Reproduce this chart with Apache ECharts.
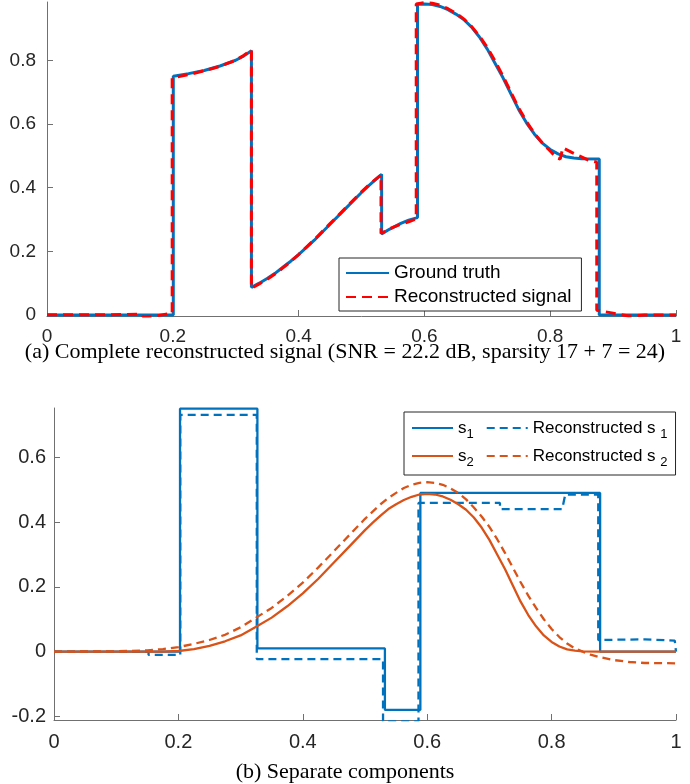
<!DOCTYPE html>
<html><head><meta charset="utf-8">
<script src="https://cdn.jsdelivr.net/npm/echarts@6/dist/echarts.min.js"></script>
<style>html,body{margin:0;padding:0;background:#fff}#c{width:690px;height:784px}</style>
</head><body><div id="c"></div>
<script>
// ---- tick values ----
const xTicks = [0, 0.2, 0.4, 0.6, 0.8, 1];
const yTicksTop = [0, 0.2, 0.4, 0.6, 0.8];
const yTicksBottom = [-0.2, 0, 0.2, 0.4, 0.6];

// ---- (a) complete signal ----
const groundTruth = [[0,0],[0.2008,0],[0.2008,0.75],[0.225,0.758],[0.25,0.768],[0.275,0.782],[0.3,0.8],[0.3125,0.813],[0.325,0.83],[0.325,0.087],[0.3375,0.1],[0.35,0.115],[0.3625,0.131],[0.375,0.15],[0.3875,0.169],[0.4,0.19],[0.425,0.235],[0.45,0.285],[0.475,0.335],[0.5,0.385],[0.5125,0.408],[0.525,0.43],[0.532,0.442],[0.532,0.255],[0.545,0.27],[0.5625,0.288],[0.575,0.298],[0.589,0.306],[0.589,0.976],[0.6,0.977],[0.6125,0.975],[0.625,0.969],[0.6375,0.959],[0.65,0.945],[0.6625,0.928],[0.675,0.904],[0.6875,0.873],[0.7,0.835],[0.7125,0.79],[0.725,0.745],[0.7375,0.695],[0.75,0.645],[0.7625,0.603],[0.775,0.568],[0.7875,0.54],[0.8,0.52],[0.8125,0.506],[0.825,0.497],[0.8375,0.493],[0.85,0.491],[0.878,0.49],[0.878,0],[1,0]];
const reconstructedSignal = [[0,0.001],[0.1,0.001],[0.15,0.003],[0.153,-0.006],[0.175,-0.002],[0.199,0.006],[0.199,0.745],[0.225,0.755],[0.25,0.767],[0.275,0.781],[0.3,0.8],[0.3125,0.815],[0.325,0.833],[0.325,0.084],[0.3375,0.098],[0.35,0.112],[0.3625,0.129],[0.375,0.148],[0.3875,0.168],[0.4,0.19],[0.425,0.237],[0.45,0.287],[0.475,0.337],[0.5,0.387],[0.5125,0.41],[0.531,0.44],[0.531,0.256],[0.545,0.271],[0.5625,0.285],[0.575,0.293],[0.587,0.302],[0.587,0.977],[0.6,0.981],[0.6125,0.979],[0.625,0.973],[0.6375,0.962],[0.65,0.948],[0.6625,0.93],[0.675,0.906],[0.6875,0.876],[0.7,0.84],[0.7125,0.797],[0.725,0.75],[0.7375,0.7],[0.75,0.65],[0.7625,0.607],[0.775,0.57],[0.7875,0.54],[0.8,0.515],[0.81,0.494],[0.816,0.49],[0.82,0.525],[0.835,0.51],[0.86,0.487],[0.874,0.48],[0.874,0.015],[0.9,0.006],[0.925,-0.003],[0.95,0.0],[1,0.0]];

// ---- (b) separate components ----
const s1 = [[0,0],[0.2026,0],[0.2026,0.75],[0.327,0.75],[0.327,0.01],[0.532,0.01],[0.532,-0.18],[0.589,-0.18],[0.589,0.49],[0.878,0.49],[0.878,0],[1,0]];
const s1Rec = [[0,0],[0.152,0],[0.152,-0.01],[0.203,-0.01],[0.203,0.731],[0.326,0.731],[0.326,-0.023],[0.529,-0.023],[0.529,-0.215],[0.586,-0.215],[0.586,0.459],[0.717,0.459],[0.717,0.44],[0.817,0.44],[0.822,0.485],[0.875,0.485],[0.875,0.036],[0.95,0.038],[0.998,0.034],[1,0]];
const s2 = [[0,0],[0.1,0],[0.15,0],[0.175,0],[0.2,0.002],[0.225,0.008],[0.25,0.018],[0.275,0.032],[0.3,0.05],[0.325,0.077],[0.35,0.105],[0.375,0.14],[0.4,0.18],[0.425,0.225],[0.45,0.275],[0.475,0.325],[0.5,0.375],[0.5125,0.398],[0.525,0.42],[0.5375,0.44],[0.55,0.455],[0.5625,0.468],[0.575,0.478],[0.5875,0.485],[0.6,0.487],[0.6125,0.485],[0.625,0.479],[0.6375,0.469],[0.65,0.455],[0.6625,0.438],[0.675,0.414],[0.6875,0.383],[0.7,0.345],[0.7125,0.3],[0.725,0.255],[0.7375,0.205],[0.75,0.155],[0.7625,0.113],[0.775,0.078],[0.7875,0.05],[0.8,0.03],[0.8125,0.016],[0.825,0.007],[0.8375,0.003],[0.85,0.001],[0.875,0],[1,0]];
const s2Rec = [[0,0],[0.1,0.001],[0.15,0.004],[0.175,0.008],[0.2,0.014],[0.225,0.024],[0.25,0.036],[0.275,0.052],[0.3,0.075],[0.325,0.105],[0.35,0.135],[0.375,0.172],[0.4,0.213],[0.425,0.26],[0.45,0.31],[0.475,0.36],[0.5,0.41],[0.525,0.455],[0.5375,0.474],[0.55,0.49],[0.5625,0.505],[0.575,0.515],[0.5875,0.521],[0.6,0.523],[0.6125,0.521],[0.625,0.515],[0.6375,0.504],[0.65,0.49],[0.6625,0.47],[0.675,0.445],[0.6875,0.417],[0.7,0.385],[0.7125,0.347],[0.725,0.305],[0.7375,0.26],[0.75,0.215],[0.7625,0.173],[0.775,0.135],[0.7875,0.1],[0.8,0.07],[0.8125,0.045],[0.825,0.025],[0.8375,0.01],[0.85,0.0],[0.8625,-0.009],[0.875,-0.016],[0.9,-0.026],[0.925,-0.032],[0.95,-0.035],[1,-0.036]];

const captionA = '(a) Complete reconstructed signal (SNR = 22.2 dB, sparsity 17 + 7 = 24)';
const captionB = '(b) Separate components';

const BLUE = '#0072BD', ORANGE = '#D95319', RED = '#FF0000';
const AXIS = '#707070', TXT = '#262626';
const SANS = 'Liberation Sans', SERIF = 'Liberation Serif';

function xAxis(gi, fs, margin) {
  return {
    type: 'value', gridIndex: gi, min: 0, max: 1,
    axisLine: { show: true, onZero: false, lineStyle: { color: AXIS, width: 1 } },
    axisTick: { show: true, inside: true, length: 6, customValues: xTicks, lineStyle: { color: AXIS } },
    axisLabel: { customValues: xTicks, color: TXT, fontSize: fs, fontFamily: SANS, margin: margin,
      formatter: v => String(Math.round(v * 10) / 10) },
    splitLine: { show: false }
  };
}
function yAxis(gi, mn, mx, ticks, fs, margin) {
  return {
    type: 'value', gridIndex: gi, min: mn, max: mx,
    axisLine: { show: true, onZero: false, lineStyle: { color: AXIS, width: 1 } },
    axisTick: { show: true, inside: true, length: 6, customValues: ticks, lineStyle: { color: AXIS } },
    axisLabel: { customValues: ticks, color: TXT, fontSize: fs, fontFamily: SANS, margin: margin,
      formatter: v => String(Math.round(v * 10) / 10) },
    splitLine: { show: false }
  };
}
function line(name, data, color, width, dash, xi, yi) {
  return {
    name, type: 'line', data, xAxisIndex: xi, yAxisIndex: yi,
    showSymbol: false, symbol: 'none', clip: true,
    lineStyle: { color, width, type: dash ? dash : 'solid' },
    itemStyle: { color }, z: 2
  };
}

const chart = echarts.init(document.getElementById('c'), null, { renderer: 'canvas' });
chart.setOption({
  animation: false,
  backgroundColor: '#fff',
  title: [
    { text: captionA, left: 'center', top: 341, padding: 0,
      textStyle: { fontFamily: SERIF, fontSize: 22, fontWeight: 'normal', color: '#000', lineHeight: 22 } },
    { text: captionB, left: 'center', top: 761, padding: 0,
      textStyle: { fontFamily: SERIF, fontSize: 22, fontWeight: 'normal', color: '#000', lineHeight: 22 } }
  ],
  grid: [
    { left: 47, top: 2, width: 629, height: 314 },
    { left: 54, top: 408, width: 622, height: 312 }
  ],
  xAxis: [xAxis(0, 19, 11), xAxis(1, 20, 12)],
  yAxis: [yAxis(0, -0.003, 0.983, yTicksTop, 19, 11), yAxis(1, -0.211, 0.752, yTicksBottom, 20, 8)],
  legend: [
    { data: ['Ground truth', 'Reconstructed signal'], orient: 'vertical', left: 339, top: 258,
      itemWidth: 43, itemHeight: 14, itemGap: 2, padding: [4, 10, 3, 6],
      itemStyle: { opacity: 0, borderWidth: 0 },
      borderColor: '#262626', borderWidth: 1, backgroundColor: '#fff', borderRadius: 0,
      textStyle: { fontFamily: SANS, fontSize: 19, color: '#000', lineHeight: 22 } },
    { data: ['s1', 'Reconstructed s1', 's2', 'Reconstructed s2'], orient: 'horizontal', left: 404, top: 412,
      width: 258, itemWidth: 41, itemHeight: 14, itemGap: 2, padding: [3, 8, 6, 7],
      itemStyle: { opacity: 0, borderWidth: 0 },
      borderColor: '#262626', borderWidth: 1, backgroundColor: '#fff', borderRadius: 0,
      formatter: n => {
        if (n === 's1') return 's{subr|1}';
        if (n === 's2') return 's{subr|2}';
        if (n === 'Reconstructed s1') return 'Reconstructed s {sub|1}';
        return 'Reconstructed s {sub|2}';
      },
      textStyle: { fontFamily: SANS, fontSize: 17, color: '#000', lineHeight: 20,
        rich: {
          sub: { fontFamily: SANS, fontSize: 13, lineHeight: 13, padding: [13, 0, 0, 0], color: '#000' },
          subr: { fontFamily: SANS, fontSize: 13, lineHeight: 13, padding: [13, 10, 0, 0], color: '#000' }
        } } }
  ],
  series: [
    line('Ground truth', groundTruth, BLUE, 3, null, 0, 0),
    line('Reconstructed signal', reconstructedSignal, RED, 3, [10, 6], 0, 0),
    line('s1', s1, BLUE, 2.3, null, 1, 1),
    line('Reconstructed s1', s1Rec, BLUE, 2.3, [8, 5], 1, 1),
    line('s2', s2, ORANGE, 2.3, null, 1, 1),
    line('Reconstructed s2', s2Rec, ORANGE, 2.3, [8, 5], 1, 1)
  ]
});
</script>
</body></html>
